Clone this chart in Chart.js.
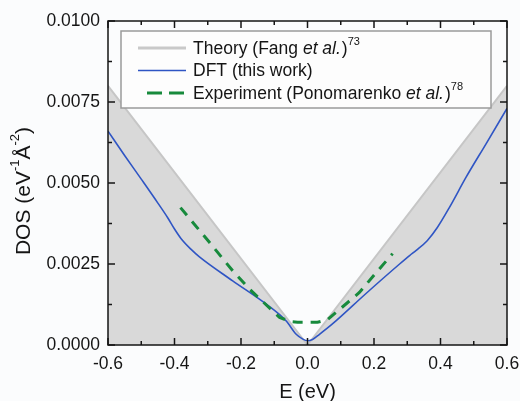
<!DOCTYPE html>
<html lang="en">
<head>
    <meta charset="UTF-8">
    <title>DOS of graphene</title>
    <script src="https://cdn.jsdelivr.net/npm/chart.js"></script>
    <style>
        body { margin: 0; background: #fbfcfd; }
        canvas { display: block; }
    </style>
</head>
<body>
<canvas id="dosChart" width="520" height="401"></canvas>

<script>
    // tick values
    const xTickValues = [-0.6, -0.4, -0.2, 0.0, 0.2, 0.4, 0.6];
    const yTickValues = [0.0000, 0.0025, 0.0050, 0.0075, 0.0100];

    // Theory (Fang et al.) - V shape
    const theoryE   = [-0.6, 0.0, 0.6];
    const theoryDOS = [0.0080, 0.0000, 0.0080];

    // DFT (this work)
    const dftE = [-0.6, -0.55, -0.5, -0.45, -0.42, -0.40, -0.38, -0.35, -0.325, -0.225, -0.124, -0.064, -0.034, -0.014, 0.0,
                  0.015, 0.036, 0.075, 0.176, 0.277, 0.307, 0.327, 0.36, 0.39, 0.427, 0.477, 0.537, 0.6];
    const dftDOS = [0.00660, 0.00585, 0.00512, 0.00438, 0.00392, 0.00358, 0.00328, 0.00295, 0.00272, 0.00198, 0.00126, 0.00074, 0.00033, 0.00018, 0.00013,
                    0.00017, 0.00033, 0.00065, 0.00159, 0.00250, 0.00276, 0.00292, 0.00322, 0.00362, 0.00425, 0.00518, 0.00621, 0.00730];

    // Experiment (Ponomarenko et al.)
    const expE   = [-0.382, -0.295, -0.225, -0.174, -0.084, -0.05, -0.03, 0.03, 0.06, 0.156, 0.207, 0.256];
    const expDOS = [0.00424, 0.00317, 0.00229, 0.00172, 0.00085, 0.00072, 0.00070, 0.00070, 0.00078, 0.00162, 0.00224, 0.00282];

    const toPoints = (xs, ys) => xs.map((x, i) => ({ x: x, y: ys[i] }));

    const FONT = '"Liberation Sans", Arial, Helvetica, sans-serif';

    // draw a run of text pieces: [text, style] with style n / i / s (superscript)
    function drawRich(ctx, parts, x, y, size) {
        let cx = x;
        parts.forEach(([text, style]) => {
            let yy = y;
            if (style === 'i') ctx.font = 'italic ' + size + 'px ' + FONT;
            else if (style === 's') { ctx.font = Math.round(size * 0.62) + 'px ' + FONT; yy = y - size * 0.42; }
            else ctx.font = size + 'px ' + FONT;
            ctx.fillText(text, cx, yy);
            cx += ctx.measureText(text).width + (style === 'i' ? 1 : 0);
        });
        return cx - x;
    }

    const legendRows = [
        { color: '#c9c9c9', width: 3,   dash: [],       parts: [['Theory (Fang ', 'n'], ['et al.', 'i'], [')', 'n'], ['73', 's']] },
        { color: '#2f55c4', width: 1.6, dash: [],       parts: [['DFT (this work)', 'n']] },
        { color: '#178a3c', width: 3,   dash: [15, 7],  parts: [['Experiment (Ponomarenko ', 'n'], ['et al.', 'i'], [')', 'n'], ['78', 's']] }
    ];

    const framePlugin = {
        id: 'frame',
        beforeDraw(chart) {
            const ctx = chart.ctx;
            ctx.save();
            ctx.fillStyle = '#fbfcfd';
            ctx.fillRect(0, 0, chart.width, chart.height);
            ctx.restore();
        },
        afterDraw(chart) {
            const { ctx, chartArea: a, scales: { x, y } } = chart;
            ctx.save();
            ctx.strokeStyle = '#151515';
            ctx.lineWidth = 1.5;

            const line = (x1, y1, x2, y2) => {
                ctx.beginPath(); ctx.moveTo(x1, y1); ctx.lineTo(x2, y2); ctx.stroke();
            };

            // inward ticks, major + minor, on all four sides
            xTickValues.forEach((v, i) => {
                const px = x.getPixelForValue(v);
                line(px, a.bottom, px, a.bottom - 7);
                line(px, a.top, px, a.top + 7);
                if (i < xTickValues.length - 1) {
                    const pm = x.getPixelForValue((v + xTickValues[i + 1]) / 2);
                    line(pm, a.bottom, pm, a.bottom - 4);
                    line(pm, a.top, pm, a.top + 4);
                }
            });
            yTickValues.forEach((v, i) => {
                const py = y.getPixelForValue(v);
                line(a.left, py, a.left + 7, py);
                line(a.right, py, a.right - 7, py);
                if (i < yTickValues.length - 1) {
                    const pm = y.getPixelForValue((v + yTickValues[i + 1]) / 2);
                    line(a.left, pm, a.left + 4, pm);
                    line(a.right, pm, a.right - 4, pm);
                }
            });
            ctx.strokeRect(a.left, a.top, a.right - a.left, a.bottom - a.top);

            // legend box
            ctx.fillStyle = '#fdfdfd';
            ctx.fillRect(121, 31, 370, 77);
            ctx.strokeStyle = '#9a9a9a';
            ctx.lineWidth = 1.5;
            ctx.strokeRect(121, 31, 370, 77);

            ctx.textBaseline = 'middle';
            legendRows.forEach((row, i) => {
                const ry = 48 + i * 22.5;
                ctx.strokeStyle = row.color;
                ctx.lineWidth = row.width;
                ctx.setLineDash(row.dash);
                if (row.dash.length) line(147, ry, 184, ry);
                else line(138, ry, 186, ry);
                ctx.setLineDash([]);
                ctx.fillStyle = '#151515';
                drawRich(ctx, row.parts, 193, ry + 1, 17.5);
            });

            // y axis title, rotated
            ctx.translate(24, 191);
            ctx.rotate(-Math.PI / 2);
            const yParts = [['DOS (eV', 'n'], ['-1', 's'], ['Å', 'n'], ['-2', 's'], [')', 'n']];
            ctx.globalAlpha = 0;
            const w = drawRich(ctx, yParts, 0, 0, 21);
            ctx.globalAlpha = 1;
            ctx.fillStyle = '#151515';
            drawRich(ctx, yParts, -w / 2, 0, 21);
            ctx.restore();
        }
    };

    const ctx = document.getElementById('dosChart').getContext('2d');
    const dosChart = new Chart(ctx, {
        type: 'line',
        data: {
            datasets: [
                {
                    label: 'Theory (Fang et al.)',
                    data: toPoints(theoryE, theoryDOS),
                    borderColor: '#c6c6c6',
                    backgroundColor: '#d9d9d9',
                    borderWidth: 2,
                    fill: 'origin',
                    pointRadius: 0,
                    order: 3
                },
                {
                    label: 'DFT (this work)',
                    data: toPoints(dftE, dftDOS),
                    borderColor: '#2f55c4',
                    borderWidth: 1.6,
                    fill: false,
                    pointRadius: 0,
                    cubicInterpolationMode: 'monotone',
                    order: 2
                },
                {
                    label: 'Experiment (Ponomarenko et al.)',
                    data: toPoints(expE, expDOS),
                    borderColor: '#178a3c',
                    borderWidth: 3,
                    borderDash: [10, 8],
                    fill: false,
                    pointRadius: 0,
                    tension: 0,
                    order: 1
                }
            ]
        },
        options: {
            responsive: false,
            animation: false,
            layout: { padding: { left: 0, top: 21, right: 13, bottom: -3 } },
            plugins: {
                legend: { display: false },
                tooltip: { enabled: false }
            },
            scales: {
                x: {
                    type: 'linear',
                    min: -0.6,
                    max: 0.6,
                    grid: { display: false, drawTicks: false },
                    border: { display: false },
                    afterBuildTicks: scale => { scale.ticks = xTickValues.map(v => ({ value: v })); },
                    afterFit: scale => {
                        scale.height = 59;
                        scale.paddingLeft = 0;
                        scale.paddingRight = 0;
                    },
                    ticks: {
                        color: '#151515',
                        padding: 9,
                        maxRotation: 0,
                        font: { family: FONT, size: 17.5 },
                        callback: v => v.toFixed(1)
                    },
                    title: {
                        display: true,
                        text: 'E (eV)',
                        color: '#151515',
                        font: { family: FONT, size: 20 },
                        padding: { top: 0, bottom: 0 }
                    }
                },
                y: {
                    type: 'linear',
                    min: 0,
                    max: 0.01,
                    grid: { display: false, drawTicks: false },
                    border: { display: false },
                    afterBuildTicks: scale => { scale.ticks = yTickValues.map(v => ({ value: v })); },
                    afterFit: scale => {
                        scale.width = 108;
                        scale.paddingTop = 0;
                        scale.paddingBottom = 0;
                    },
                    ticks: {
                        color: '#151515',
                        padding: 8,
                        font: { family: FONT, size: 17.5 },
                        callback: v => v.toFixed(4)
                    }
                }
            }
        },
        plugins: [framePlugin]
    });
</script>
</body>
</html>
